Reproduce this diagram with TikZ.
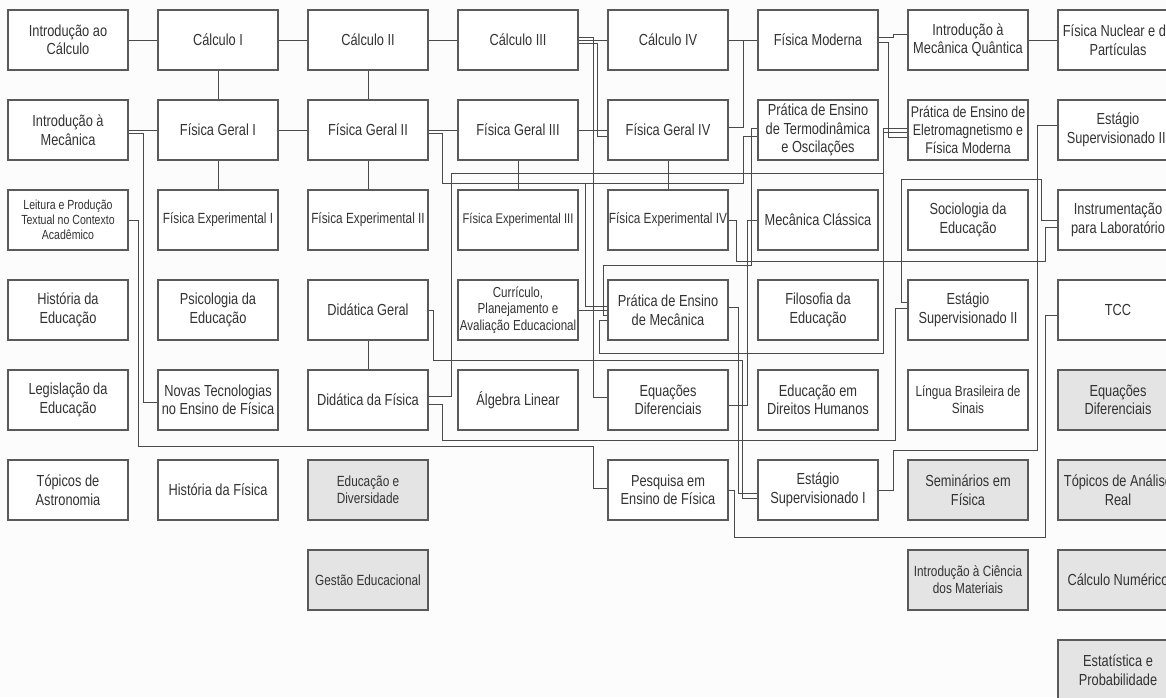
\documentclass[tikz,border=0pt]{standalone}
\usepackage{fontspec}
\setmainfont{Liberation Sans}[FakeStretch=0.8]
\usetikzlibrary{calc}

\definecolor{boxgray}{HTML}{5A5A5A}
\definecolor{linegray}{HTML}{4A4A4A}
\definecolor{txtgray}{HTML}{333333}
\definecolor{optgray}{HTML}{E4E4E4}

\begin{document}
\begin{tikzpicture}[x=1pt,y=-1pt,every text node part/.style={align=center}]
		\tikzstyle{course}=[rectangle,draw=boxgray,line width=1.1pt,fill=white,
							minimum width=120pt,minimum height=60pt,inner sep=1pt,
							text=txtgray,font=\fontsize{16}{18.5}\selectfont]
		\tikzstyle{optional}=[course,fill=optgray]
		\tikzstyle{smalltext}=[font=\fontsize{14.75}{17}\selectfont]
		\tikzstyle{tinytext}=[font=\fontsize{13.2}{15.2}\selectfont]
		\tikzstyle{link}=[draw=linegray,line width=0.9pt]

		\useasboundingbox (0,0) rectangle (1166,697);
		\fill[white!99!black] (0,0) rectangle (1166,697);
		\clip (0,0) rectangle (1166,697);

		% 1st semester
		\node[course] (intcalc) at (68,40) {Introdução ao\\Cálculo};
		\node[course] (intmec) at (68,130) {Introdução à\\Mecânica};
		\node[course,tinytext] (leitura) at (68,220) {Leitura e Produção\\Textual no Contexto\\Acadêmico};
		\node[course] (histedu) at (68,310) {História da\\Educação};
		\node[course] (legis) at (68,400) {Legislação da\\Educação};
		\node[course] (astro) at (68,490) {Tópicos de\\Astronomia};

		% 2nd semester
		\node[course] (calc1) at (218,40) {Cálculo I};
		\node[course] (fg1) at (218,130) {Física Geral I};
		\node[course,smalltext] (fe1) at (218,220) {Física Experimental I};
		\node[course] (psico) at (218,310) {Psicologia da\\Educação};
		\node[course] (novas) at (218,400) {Novas Tecnologias\\no Ensino de Física};
		\node[course] (histfis) at (218,490) {História da Física};

		% 3rd semester
		\node[course] (calc2) at (368,40) {Cálculo II};
		\node[course] (fg2) at (368,130) {Física Geral II};
		\node[course,smalltext] (fe2) at (368,220) {Física Experimental II};
		\node[course] (didg) at (368,310) {Didática Geral};
		\node[course] (didf) at (368,400) {Didática da Física};
		\node[optional,smalltext] (edudiv) at (368,490) {Educação e\\Diversidade};
		\node[optional,smalltext] (gestao) at (368,580) {Gestão Educacional};

		% 4th semester
		\node[course] (calc3) at (518,40) {Cálculo III};
		\node[course] (fg3) at (518,130) {Física Geral III};
		\node[course,font=\fontsize{14}{16.5}\selectfont] (fe3) at (518,220) {Física Experimental III};
		\node[course,font=\fontsize{14.5}{16.5}\selectfont] (curr) at (518,310) {Currículo,\\Planejamento e\\Avaliação Educacional};
		\node[course] (alglin) at (518,400) {Álgebra Linear};

		% 5th semester
		\node[course] (calc4) at (668,40) {Cálculo IV};
		\node[course] (fg4) at (668,130) {Física Geral IV};
		\node[course,smalltext] (fe4) at (668,220) {Física Experimental IV};
		\node[course] (pmec) at (668,310) {Prática de Ensino\\de Mecânica};
		\node[course] (eqdif) at (668,400) {Equações\\Diferenciais};
		\node[course] (pesquisa) at (668,490) {Pesquisa em\\Ensino de Física};

		% 6th semester
		\node[course] (fismod) at (818,40) {Física Moderna};
		\node[course] (ptermo) at (818,130) {Prática de Ensino\\de Termodinâmica\\e Oscilações};
		\node[course] (mecc) at (818,220) {Mecânica Clássica};
		\node[course] (filo) at (818,310) {Filosofia da\\Educação};
		\node[course] (edh) at (818,400) {Educação em\\Direitos Humanos};
		\node[course] (estsup1) at (818,490) {Estágio\\Supervisionado I};

		% 7th semester
		\node[course] (intmq) at (968,40) {Introdução à\\Mecânica Quântica};
		\node[course,font=\fontsize{15.5}{18}\selectfont] (pelet) at (968,130) {Prática de Ensino de\\Eletromagnetismo e\\Física Moderna};
		\node[course] (socio) at (968,220) {Sociologia da\\Educação};
		\node[course] (estsup2) at (968,310) {Estágio\\Supervisionado II};
		\node[course,smalltext] (libras) at (968,400) {Língua Brasileira de\\Sinais};
		\node[optional] (semfis) at (968,490) {Seminários em\\Física};
		\node[optional,smalltext] (ciemat) at (968,580) {Introdução à Ciência\\dos Materiais};

		% 8th semester
		\node[course] (fisnuc) at (1118,40) {Física Nuclear e de\\Partículas};
		\node[course] (estsup3) at (1118,130) {Estágio\\Supervisionado III};
		\node[course] (instr) at (1118,220) {Instrumentação\\para Laboratório};
		\node[course] (tcc) at (1118,310) {TCC};
		\node[optional] (eqdif2) at (1118,400) {Equações\\Diferenciais};
		\node[optional] (analise) at (1118,490) {Tópicos de Análise\\Real};
		\node[optional] (calcnum) at (1118,580) {Cálculo Numérico};
		\node[optional] (estat) at (1118,670) {Estatística e\\Probabilidade};

		% straight edges
		\foreach \a/\b in {intcalc/calc1, calc1/calc2, calc2/calc3, calc3/calc4, calc4/fismod,
				intmq/fisnuc, intmec/fg1, fg1/fg2, fg2/fg3, fg3/fg4,
				calc1/fg1, calc2/fg2, fg1/fe1, fg2/fe2, fg3/fe3, fg4/fe4, didg/didf}
			\draw[link] (\a) -- (\b);
		\draw[link] (curr.east |- 0,310) -- (pmec.west |- 0,310);

		% routed edges
		\draw[link] (fismod.east |- 0,37) -| (893,34) -- (intmq.west |- 0,34);
		\draw[link] (fismod.east |- 0,42) -| (888,137) -- (pelet.west |- 0,137);
		\draw[link] (fg4.east |- 0,127) -| (743,40) -- (fismod.west);
		\draw[link] (calc3.east |- 0,37) -| (593,397) -- (eqdif.west |- 0,397);
		\draw[link] (calc3.east |- 0,43) -| (597,136) -- (fg4.west |- 0,136);
		\draw[link] (fg2.east |- 0,133) -| (442,183) -| (743,136) -- (ptermo.west |- 0,136);
		\draw[link] (fg2.east |- 0,133) -| (442,183) -| (585,306) -- (pmec.west |- 0,306);
		\draw[link] (didf.east |- 0,396) -| (451,173) -| (883,132) -- (pelet.west |- 0,132);
		\draw[link] (pmec.west |- 0,315) -| (603,265) -| (751,128) -- (ptermo.west |- 0,128);
		\draw[link] (pmec.west |- 0,320) -| (599,353) -| (883,128) -- (pelet.west |- 0,128);
		\draw[link] (pmec.east |- 0,307) -| (738,493) -- (estsup1.west |- 0,493);
		\draw[link] (didg.east) -| (433,360) -| (742,498) -- (estsup1.west |- 0,498);
		\draw[link] (didf.east |- 0,404) -| (442,440) -| (895,308) -- (estsup2.west |- 0,308);
		\draw[link] (estsup1.east) -| (893,450) -| (1037,125) -- (estsup3.west |- 0,125);
		\draw[link] (estsup2.west |- 0,302) -| (901,179) -| (1041,220) -- (instr.west |- 0,220);
		\draw[link] (fe4.east) -| (736,261) -| (1045,227) -- (instr.west |- 0,227);
		\draw[link] (eqdif.east |- 0,405) -| (747,220) -- (mecc.west);
		\draw[link] (pesquisa.east) -| (734,537) -| (1045,315) -- (tcc.west |- 0,315);
		\draw[link] (leitura.east) -| (138,446) -| (593,488) -- (pesquisa.west |- 0,488);
		\draw[link] (intmec.east |- 0,133) -| (143,402) -- (novas.west |- 0,402);

\end{tikzpicture}
\end{document}
